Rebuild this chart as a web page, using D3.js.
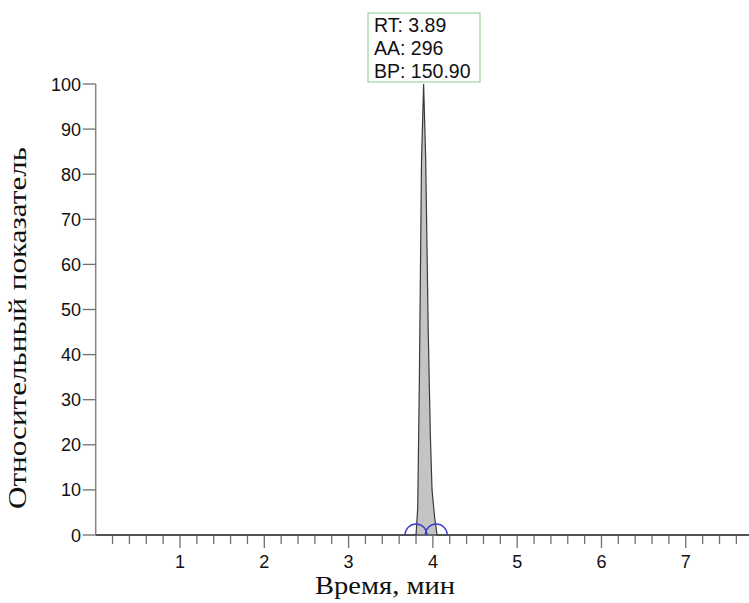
<!DOCTYPE html>
<html>
<head>
<meta charset="utf-8">
<title>Chromatogram</title>
<script src="https://d3js.org/d3.v7.min.js"></script>
<style>
  body { margin: 0; background: #fff; }
</style>
</head>
<body>
<script>
// signal trace (time in min, relative intensity)
var times = [0, 3.80, 3.82, 3.84, 3.865, 3.89, 3.915, 3.945, 3.97, 3.99, 4.02, 4.05, 7.75];
var intensity = [0, 0, 6, 35, 83, 100, 83, 45, 22, 10, 4, 0, 0];

// integration markers (peak start / end)
var peakBounds = [3.80, 4.04];

// annotation on apex
var peakLabel = ["RT: 3.89", "AA: 296", "BP: 150.90"];

var yTicks = [0, 10, 20, 30, 40, 50, 60, 70, 80, 90, 100];
var xMajor = [1, 2, 3, 4, 5, 6, 7];

var width = 749, height = 603;
var svg = d3.select("body").append("svg")
  .attr("width", width).attr("height", height);

var x = d3.scaleLinear().domain([0, 7.75]).range([95.7, 749]);
var y = d3.scaleLinear().domain([0, 100]).range([535, 84]);

var pts = times.map(function(t, i) { return [t, intensity[i]]; });

// filled peak
svg.append("path")
  .datum(pts)
  .attr("fill", "#c4c4c4")
  .attr("d", d3.area().x(d => x(d[0])).y0(y(0)).y1(d => y(d[1])));

// axes
var gx = svg.append("g").attr("transform", "translate(0," + y(0) + ")");
gx.append("line").attr("x1", x(0)).attr("x2", width)
  .attr("stroke", "#6a6a6a").attr("stroke-width", 2);
var minor = d3.range(0.2, 7.7, 0.2).filter(v => Math.abs(v - Math.round(v)) > 0.01);
gx.selectAll(".minor").data(minor).enter().append("line")
  .attr("x1", d => x(d)).attr("x2", d => x(d))
  .attr("y1", 0).attr("y2", 9)
  .attr("stroke", "#707070").attr("stroke-width", 1.3);
gx.selectAll(".major").data(xMajor).enter().append("line")
  .attr("x1", d => x(d)).attr("x2", d => x(d))
  .attr("y1", 0).attr("y2", 13)
  .attr("stroke", "#707070").attr("stroke-width", 1.3);
gx.selectAll("text").data(xMajor).enter().append("text")
  .attr("x", d => x(d)).attr("y", 33)
  .attr("text-anchor", "middle")
  .style("font-family", "Liberation Sans, Arial, sans-serif")
  .style("font-size", "18px").attr("fill", "#111")
  .text(d => d);

var gy = svg.append("g");
gy.append("line").attr("x1", x(0)).attr("x2", x(0))
  .attr("y1", y(0)).attr("y2", y(100))
  .attr("stroke", "#858585").attr("stroke-width", 1.5);
gy.selectAll(".tick").data(yTicks).enter().append("line")
  .attr("x1", x(0) - 13).attr("x2", x(0))
  .attr("y1", d => y(d)).attr("y2", d => y(d))
  .attr("stroke", "#707070").attr("stroke-width", 1.3);
gy.selectAll("text").data(yTicks).enter().append("text")
  .attr("x", 81).attr("y", d => y(d) + 6.5)
  .attr("text-anchor", "end")
  .style("font-family", "Liberation Sans, Arial, sans-serif")
  .style("font-size", "18px").attr("fill", "#111")
  .text(d => d);

// signal line
svg.append("path")
  .datum(pts)
  .attr("fill", "none")
  .attr("stroke", "#3a3a3a").attr("stroke-width", 1.2)
  .attr("d", d3.line().x(d => x(d[0])).y(d => y(d[1])));

// integration semicircles
var r = 11;
svg.selectAll(".bound").data(peakBounds).enter().append("path")
  .attr("fill", "none").attr("stroke", "#3b3bd0").attr("stroke-width", 1.3)
  .attr("d", function(d) {
    var cx = x(d), cy = y(0);
    return "M" + (cx - r) + "," + cy + " A" + r + "," + r + " 0 0 1 " + (cx + r) + "," + cy;
  });

// apex label
var bx = 368, by = 13;
svg.append("rect").attr("x", bx).attr("y", by).attr("width", 112).attr("height", 69)
  .attr("fill", "#fff").attr("stroke", "#9fd3a0").attr("stroke-width", 1.2);
svg.selectAll(".lbl").data(peakLabel).enter().append("text")
  .attr("x", bx + 6).attr("y", (d, i) => by + 19 + i * 23)
  .style("font-family", "Liberation Sans, Arial, sans-serif")
  .style("font-size", "19.5px").attr("fill", "#111")
  .text(d => d);

// axis titles
svg.append("text")
  .attr("transform", "translate(26,328) rotate(-90)")
  .attr("text-anchor", "middle")
  .attr("textLength", 362).attr("lengthAdjust", "spacingAndGlyphs")
  .style("font-family", "Liberation Serif, Times New Roman, serif")
  .style("font-size", "26px").attr("fill", "#111")
  .text("Относительный показатель");
svg.append("text")
  .attr("x", 385).attr("y", 594)
  .attr("text-anchor", "middle")
  .attr("textLength", 140).attr("lengthAdjust", "spacingAndGlyphs")
  .style("font-family", "Liberation Serif, Times New Roman, serif")
  .style("font-size", "26px").attr("fill", "#111")
  .text("Время, мин");
</script>
</body>
</html>
